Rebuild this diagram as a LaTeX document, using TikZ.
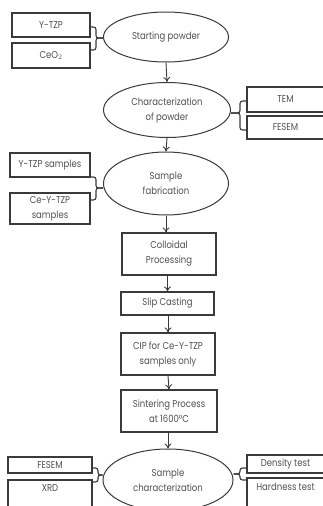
\documentclass[tikz,border=0pt]{standalone}
\usepackage{fontspec}
\setmainfont[FakeStretch=0.85]{Poppins}
\usetikzlibrary{shapes.geometric,arrows.meta}
\definecolor{txt}{HTML}{505050}
\definecolor{edge}{HTML}{3A3A3A}
\tikzset{
  box/.style={draw=edge, line width=1.2pt, text=txt, align=center, inner sep=1pt,
    font=\fontsize{10}{15}\selectfont},
  oval/.style={ellipse, draw=edge, line width=1pt, text=txt, align=center, inner sep=0pt,
    font=\fontsize{10}{15}\selectfont},
  flow/.style={draw=edge, line width=0.9pt, -{To[length=5pt,width=7pt]}},
  brace/.style={draw=edge, line width=1.1pt, rounded corners=2.5pt},
}
\begin{document}
\begin{tikzpicture}[x=1pt,y=-1pt]
\useasboundingbox (0,0) rectangle (323,506);
% row 1
\node[box, minimum width=78, minimum height=24] (ytzp) at (51,25) {Y-TZP};
\node[box, minimum width=78, minimum height=25] (ceo) at (51,55.5) {CeO$_2$};
\node[oval, minimum width=125, minimum height=50] (sp) at (166,37) {Starting powder};
% row 2
\node[oval, minimum width=127, minimum height=55] (ch) at (167,110) {Characterization\\of powder};
\node[box, minimum width=77, minimum height=25] (tem) at (285.5,99.5) {TEM};
\node[box, minimum width=77, minimum height=23] (fesem) at (285.5,127.5) {FESEM};
% row 3
\node[oval, minimum width=125, minimum height=63] (sf) at (166,183.5) {Sample\\fabrication};
\node[box, minimum width=80, minimum height=24] (ys) at (50,165) {Y-TZP samples};
\node[box, minimum width=80, minimum height=31] (cs) at (50,208.5) {Ce-Y-TZP\\samples};
% process boxes
\node[box, minimum width=94, minimum height=42] (col) at (169,254) {Colloidal\\Processing};
\node[box, minimum width=93, minimum height=23] (slip) at (167.5,303.5) {Slip Casting};
\node[box, minimum width=94, minimum height=42] (cip) at (168,354) {CIP for Ce-Y-TZP\\samples only};
\node[box, minimum width=96, minimum height=42] (sin) at (169,411) {Sintering Process\\at 1600\textdegree C};
% bottom
\node[oval, minimum width=130, minimum height=62] (sc) at (168,480) {Sample\\characterization};
\node[box, minimum width=84, minimum height=16] (fesem2) at (50,465) {FESEM};
\node[box, minimum width=84, minimum height=30, text depth=14pt] (xrd) at (50,495) {XRD};
\node[box, minimum width=77, minimum height=18] (den) at (285.5,464) {Density test};
\node[box, minimum width=77, minimum height=32, text depth=15pt] (hard) at (285.5,494) {Hardness test};
% flow arrows
\draw[flow] (sp.south) -- (ch.north);
\draw[flow] (ch.south) -- (sf.north);
\draw[flow] (sf.south) -- (sf.south |- col.north);
\draw[flow] (col.south -| slip.north) -- (slip.north);
\draw[flow] (slip.south) -- (slip.south -| cip.north) -- (cip.north);
\draw[flow] (cip.south) -- (sin.north);
\draw[flow] (sin.south -| sc.north) -- (sc.north);
% braces
\coordinate (t1) at (ytzp.east |- 0,27);
\coordinate (t2) at (ceo.east |- 0,50);
\draw[brace] (t1) -- (96,27) -- (96,38) -- (sp.west |- 0,38);
\draw[brace] (t2) -- (96,50) -- (96,38) -- (sp.west |- 0,38);
\coordinate (r1) at (tem.west |- 0,101);
\coordinate (r2) at (fesem.west |- 0,130);
\draw[brace] (r1) -- (240,101) -- (240,113) -- (ch.east |- 0,113);
\draw[brace] (r2) -- (240,130) -- (240,113) -- (ch.east |- 0,113);
\coordinate (s1) at (ys.east |- 0,177);
\coordinate (s2) at (cs.east |- 0,200);
\draw[brace] (s1) -- (96,177) -- (96,188) -- (sf.west |- 0,188);
\draw[brace] (s2) -- (96,200) -- (96,188) -- (sf.west |- 0,188);
\coordinate (b1) at (fesem2.east |- 0,468);
\coordinate (b2) at (xrd.east |- 0,482);
\draw[brace] (b1) -- (98,468) -- (98,475) -- (sc.west |- 0,475);
\draw[brace] (b2) -- (98,482) -- (98,475) -- (sc.west |- 0,475);
\coordinate (d1) at (den.west |- 0,468);
\coordinate (d2) at (hard.west |- 0,480);
\draw[brace] (d1) -- (240,468) -- (240,474) -- (sc.east |- 0,474);
\draw[brace] (d2) -- (240,480) -- (240,474) -- (sc.east |- 0,474);
\end{tikzpicture}
\end{document}
